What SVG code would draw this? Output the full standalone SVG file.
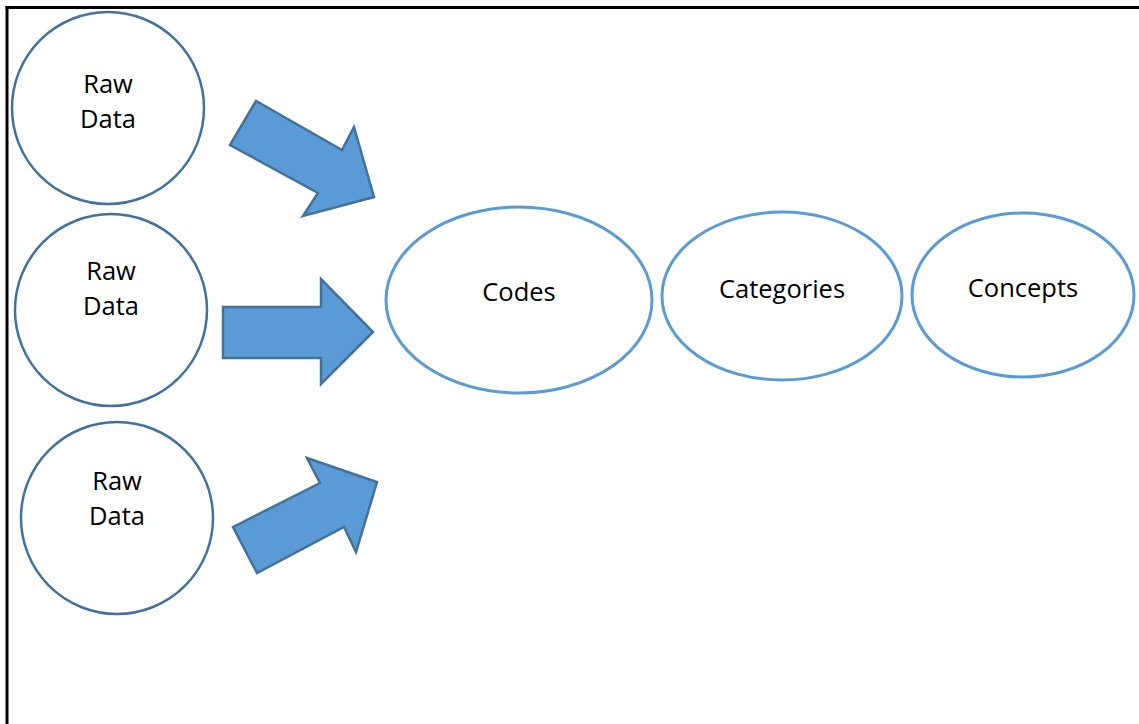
<svg xmlns="http://www.w3.org/2000/svg" width="1139" height="724" viewBox="0 0 1139 724">
<style>
.raw{fill:#fff;stroke:#41719C;stroke-width:2.5}
.oval{fill:#fff;stroke:#5B9BD5;stroke-width:3}
.arr{fill:#5B9BD5;stroke:#41719C;stroke-width:2.5;stroke-linejoin:miter}
text{font-family:"Open Sans","Liberation Sans",sans-serif;font-size:25.5px;fill:#000;text-anchor:middle}
</style>
<rect width="1139" height="724" fill="#fff"/>
<g id="frame">
<line x1="5.5" y1="7.5" x2="1139" y2="7.5" stroke="#000" stroke-width="3"/>
<line x1="7" y1="6" x2="7" y2="724" stroke="#000" stroke-width="3"/>
</g>
<g id="raw1"><circle class="raw" cx="108" cy="108" r="96"/><text x="108" y="93">Raw</text><text x="108" y="128">Data</text></g>
<g id="raw2"><circle class="raw" cx="111" cy="310" r="96"/><text x="111" y="280">Raw</text><text x="111" y="315">Data</text></g>
<g id="raw3"><circle class="raw" cx="117" cy="518" r="96"/><text x="117" y="490">Raw</text><text x="117" y="525">Data</text></g>
<g id="codes"><ellipse class="oval" cx="519" cy="300" rx="133" ry="93"/><text x="519" y="301">Codes</text></g>
<g id="categories"><ellipse class="oval" cx="782" cy="296" rx="120" ry="84"/><text x="782" y="298">Categories</text></g>
<g id="concepts"><ellipse class="oval" cx="1023" cy="295" rx="111" ry="82"/><text x="1023" y="297">Concepts</text></g>
<g id="connectors">
<polygon class="arr" points="230,145 256,101 342,150 354,127 374,197 303,216 318,193"/>
<polygon class="arr" points="223,307 321,307 321,279 373,332 321,384 321,358 223,358"/>
<polygon class="arr" points="233,527 320,483 307,458 377,482 356,552 344,527 257,573"/>
</g>
</svg>
